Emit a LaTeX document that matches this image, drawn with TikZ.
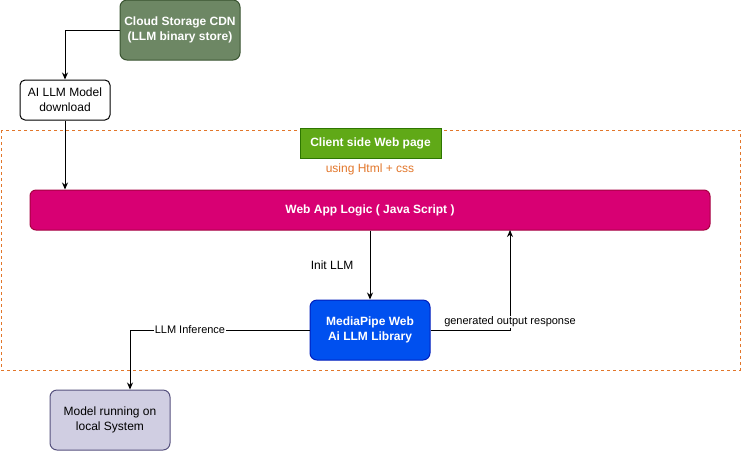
\documentclass[tikz,border=0pt]{standalone}
\usepackage{fontspec}
\setmainfont{Liberation Sans}
\usepackage{xcolor}
\usetikzlibrary{arrows.meta, positioning}

\definecolor{cdnfill}{HTML}{6D8764}
\definecolor{cdnborda}{HTML}{3A5431}
\definecolor{clientefill}{HTML}{60A917}
\definecolor{clienteborda}{HTML}{2D7600}
\definecolor{appfill}{HTML}{D80073}
\definecolor{appborda}{HTML}{A50040}
\definecolor{mpfill}{HTML}{0050EF}
\definecolor{mpborda}{HTML}{001DBC}
\definecolor{localfill}{HTML}{D0CEE2}
\definecolor{localborda}{HTML}{56517E}
\definecolor{laranja}{HTML}{E2762A}

\begin{document}
\begin{tikzpicture}[x=1pt, y=-1pt, >={Stealth[length=7pt, width=6pt]},
  caixa/.style={draw, rounded corners=7pt, align=center, inner sep=0pt,
    line width=1pt, font=\fontsize{12}{15}\selectfont},
  negrito/.style={caixa, text=white, font=\fontsize{12}{15}\selectfont\bfseries},
  rotulo/.style={font=\fontsize{11}{13}\selectfont, inner sep=1pt, fill=white},
  seta/.style={->, line width=1pt}]

  % Area da figura
  \useasboundingbox (0,0) rectangle (741,451);

  % Pagina web (moldura tracejada)
  \draw[laranja, line width=1pt, dash pattern=on 3pt off 3pt] (1,130) rectangle (740,370);

  % Caixas
  \node[negrito, fill=cdnfill, draw=cdnborda, minimum width=120pt, minimum height=60pt]
    (cdn) at (180,30) {Cloud Storage CDN\\(LLM binary store)};
  \node[caixa, fill=white, minimum width=90pt, minimum height=40pt, rounded corners=5pt]
    (download) at (65,100) {AI LLM Model\\download};
  \node[negrito, fill=clientefill, draw=clienteborda, rounded corners=0pt,
    minimum width=141pt, minimum height=30pt] (cliente) at (370.5,143) {Client side Web page};
  \node[text=laranja, font=\fontsize{12}{15}\selectfont, inner sep=0pt]
    (html) at (370,169) {using Html + css};
  \node[negrito, fill=appfill, draw=appborda, minimum width=680pt, minimum height=40pt,
    rounded corners=6pt] (webapp) at (370,210) {Web App Logic ( Java Script )};
  \node[negrito, fill=mpfill, draw=mpborda, minimum width=120pt, minimum height=60pt]
    (mediapipe) at (370,330) {MediaPipe Web\\Ai LLM Library};
  \node[caixa, fill=localfill, draw=localborda, minimum width=120pt, minimum height=60pt]
    (local) at (110,420) {Model running on\\local System};

  % Ponto de retorno da resposta
  \coordinate (retorno) at (510,230);

  % Conexoes
  \draw[seta] (cdn.west) -| (download.north);
  \draw[seta] (download.south) -- (download.south |- webapp.north);
  \draw[seta] (webapp.south) -- (mediapipe.north)
    node[midway, left=16pt, font=\fontsize{12}{15}\selectfont, inner sep=0pt] {Init LLM};
  \draw[seta] (mediapipe.east) -| (retorno)
    node[pos=0.5, above, rotulo, yshift=1.5pt] {generated output response};
  \draw[seta] (mediapipe.west) -| ([xshift=20pt]local.north)
    node[pos=0.333, rotulo] {LLM Inference};

\end{tikzpicture}
\end{document}
